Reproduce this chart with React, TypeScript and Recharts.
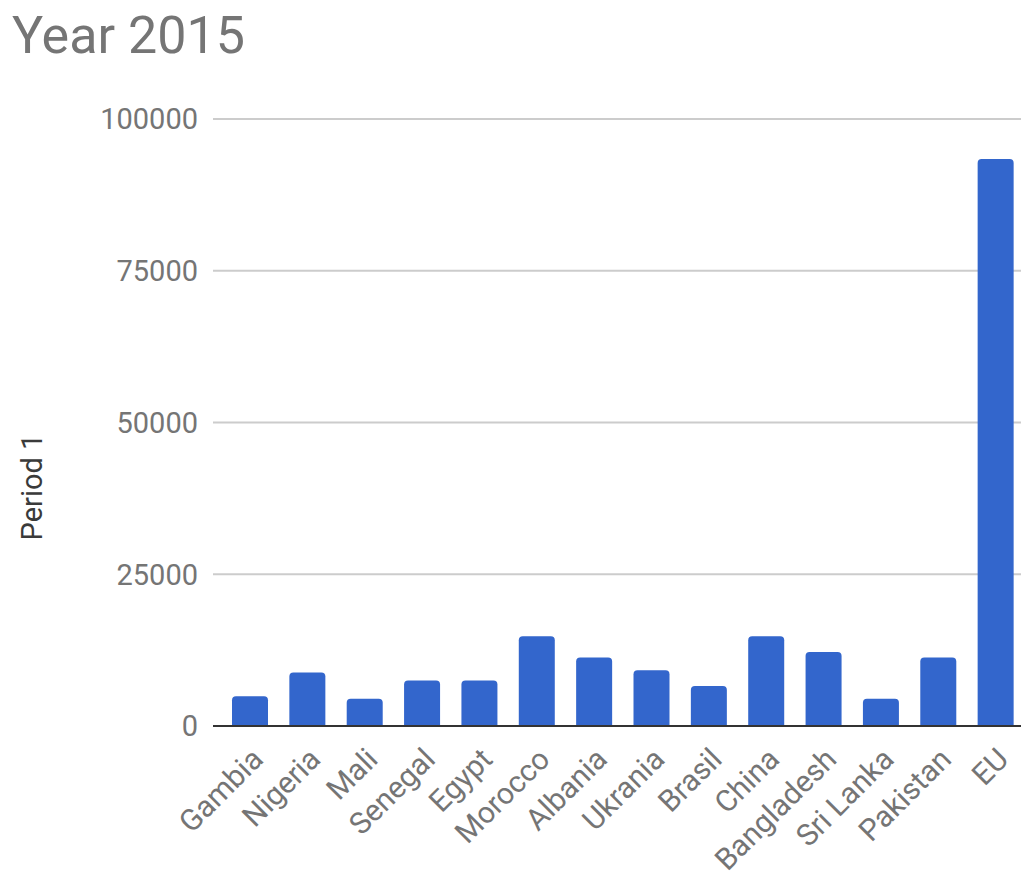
import { BarChart, Bar, XAxis, YAxis, CartesianGrid } from "recharts";

// -------------------------
// DATA
// -------------------------
const countries = [
  "Gambia",
  "Nigeria",
  "Mali",
  "Senegal",
  "Egypt",
  "Morocco",
  "Albania",
  "Ukrania",
  "Brasil",
  "China",
  "Bangladesh",
  "Sri Lanka",
  "Pakistan",
  "EU",
];
const period1 = [
  4900, 8800, 4500, 7500, 7500, 14800, 11300, 9200, 6600, 14800, 12200, 4500,
  11300, 93400,
];
const yTicks = [0, 25000, 50000, 75000, 100000];

const THEME = {
  bar: "#3366cc",
  grid: "#cccccc",
  axis: "#333333",
  muted: "#757575",
  label: "#3a3a3a",
  font: "Roboto, sans-serif",
};

const data = countries.map((name, i) => ({ name, value: period1[i] }));

export default function App() {
  return (
    <div
      style={{
        position: "absolute",
        left: 0,
        top: 0,
        width: 1021,
        height: 875,
        overflow: "hidden",
        background: "#fff",
        fontFamily: THEME.font,
      }}
    >
      <BarChart
        width={1024}
        height={875}
        data={data}
        margin={{ top: 119, right: 0, left: 0, bottom: 0 }}
        barSize={36}
      >
        <CartesianGrid
          vertical={false}
          stroke={THEME.grid}
          strokeWidth={2}
        />
        <XAxis
          dataKey="name"
          interval={0}
          angle={-45}
          textAnchor="end"
          height={149}
          padding={{ left: 8, right: 0 }}
          tickLine={false}
          tickSize={0}
          tickMargin={20}
          axisLine={{ stroke: THEME.axis, strokeWidth: 2 }}
          tick={{ fontSize: 30, fill: THEME.muted, fontFamily: THEME.font }}
        />
        <YAxis
          width={213}
          domain={[0, 100000]}
          ticks={yTicks}
          axisLine={false}
          tickLine={false}
          tickSize={0}
          tickMargin={15}
          tick={{ fontSize: 29, fill: THEME.muted, fontFamily: THEME.font }}
        />
        <Bar
          dataKey="value"
          fill={THEME.bar}
          radius={[4, 4, 0, 0]}
          isAnimationActive={false}
        />
      </BarChart>

      {/* title + axis title */}
      <svg
        width={1021}
        height={875}
        style={{ position: "absolute", left: 0, top: 0, pointerEvents: "none" }}
      >
        <text
          x={12}
          y={53}
          fontSize={52}
          fill={THEME.muted}
          fontFamily={THEME.font}
        >
          Year 2015
        </text>
        <text
          x={42}
          y={487}
          transform="rotate(-90 42 487)"
          textAnchor="middle"
          fontSize={29}
          fill={THEME.label}
          fontFamily={THEME.font}
        >
          Period 1
        </text>
      </svg>
    </div>
  );
}
